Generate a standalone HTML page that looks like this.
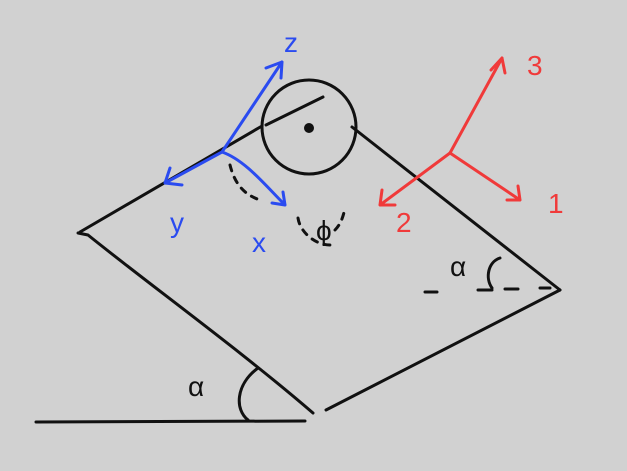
<!DOCTYPE html>
<html><head><meta charset="utf-8"><style>
html,body{margin:0;padding:0;background:#d1d1d1;}
svg{display:block}
text{font-family:"Liberation Sans","DejaVu Sans",sans-serif;}
</style></head><body>
<svg width="627" height="471" viewBox="0 0 627 471">
<rect width="627" height="471" fill="#d1d1d1"/>
<g stroke="#111" stroke-width="3" fill="none" stroke-linecap="round" stroke-linejoin="round">
  <path d="M36,422 L305,421"/>
  <path d="M78,233 L88,235 C150,285 240,350 313,413"/>
  <path d="M80,232 L262,126"/>
  <path d="M266,125 L323,97"/>
  <path d="M352,127 L560,290"/>
  <path d="M326,410 L560,290"/>
  <circle cx="309" cy="127" r="47"/>
  <path d="M258,368 C235,385 235,410 248,420"/>
  <path d="M500,258 C488,262 485,278 492,288"/>
  <path d="M425,292 L437,292 M478,290 L492,290 M505,289 L518,289 M540,288 L550,288"/>
  <path d="M298,218 C300,232 315,245 330,245 M335,230 C340,225 343,218 345,208 M230,165 C235,185 245,195 260,200" stroke-dasharray="6 7"/>
</g>
<circle cx="309" cy="128" r="5" fill="#111"/>
<g stroke="#2a4bf0" stroke-width="3" fill="none" stroke-linecap="round" stroke-linejoin="round">
  <path d="M222,152 L282,62 M266,68 L282,62 L281,78"/>
  <path d="M222,152 L165,183 M170,168 L165,183 L182,185"/>
  <path d="M222,152 C245,160 265,185 285,205 M272,203 L285,205 L283,192"/>
</g>
<g stroke="#f03a3a" stroke-width="3" fill="none" stroke-linecap="round" stroke-linejoin="round">
  <path d="M450,153 L502,58 M491,70 L502,58 L505,73"/>
  <path d="M450,153 L520,200 M518,186 L520,200 L507,200"/>
  <path d="M450,153 L380,205 M382,190 L380,205 L395,205"/>
</g>
<g fill="#2a4bf0" font-size="28">
  <text x="284" y="52">z</text>
  <text x="170" y="232">y</text>
  <text x="252" y="252">x</text>
</g>
<g fill="#f03a3a" font-size="28">
  <text x="527" y="75">3</text>
  <text x="548" y="213">1</text>
  <text x="396" y="232">2</text>
</g>
<g fill="#111" font-size="28">
  <text x="316" y="240">ϕ</text>
  <text x="188" y="396">α</text>
  <text x="450" y="276">α</text>
</g>
</svg>
</body></html>
